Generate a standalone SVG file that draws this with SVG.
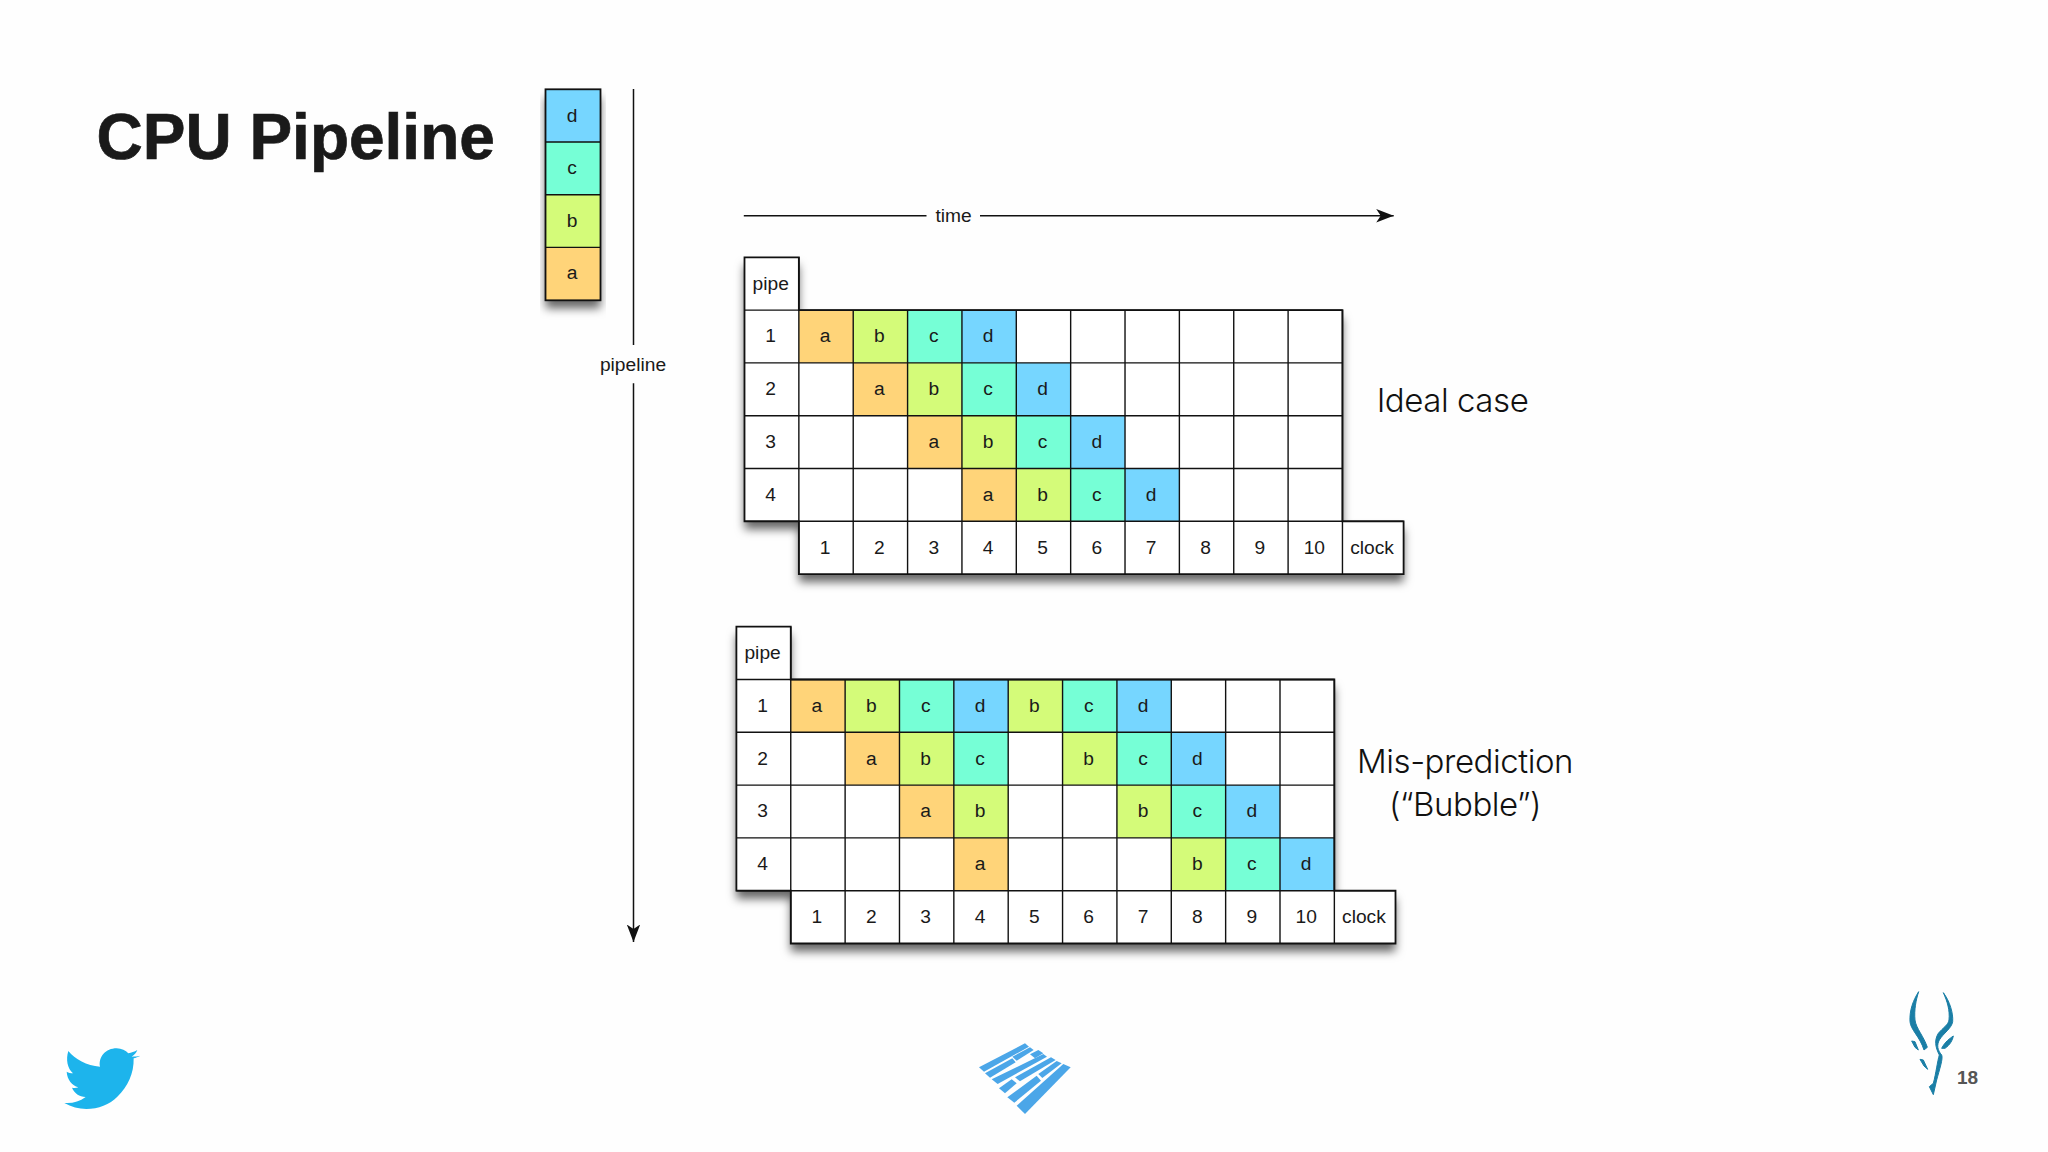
<svg xmlns="http://www.w3.org/2000/svg" width="2048" height="1152" viewBox="0 0 2048 1152">
<style>
text{font-family:"Liberation Sans",Arial,sans-serif;font-size:19.2px;fill:#1a1a1a;text-anchor:middle}
.title{font-size:64px;font-weight:700;fill:#1a1a1a;stroke:#1a1a1a;stroke-width:.7;text-anchor:start}
.big{font-family:Inter,"Liberation Sans",sans-serif;font-weight:300;font-size:33px;letter-spacing:-.45px;fill:#111}
.num{font-size:19px;font-weight:700;fill:#555;text-anchor:start}
.k{width:54.36px;height:52.8px;stroke:none}
.a{fill:#FFD479}.b{fill:#D4FB79}.c{fill:#76FFD6}.d{fill:#76D6FF}
.base{fill:#fff;stroke:none;filter:url(#sh)}
.edge{fill:none;stroke:#111;stroke-width:1.8}
.lines{fill:none;stroke:#111;stroke-width:1.4}
.conn{stroke:#111;stroke-width:1.5;fill:none}
.arrow{marker-end:url(#ah)}
</style>
<defs>
<filter id="sh" x="-10%" y="-10%" width="120%" height="125%"><feDropShadow dx="0" dy="8" stdDeviation="5" flood-color="#000" flood-opacity=".6"/></filter>
<marker id="ah" markerUnits="userSpaceOnUse" markerWidth="20" markerHeight="16" refX="17.5" refY="8" orient="auto"><path d="M0,1.3 L17.5,8 L0,14.7 L4.5,8 Z" fill="#111"/></marker>
</defs>
<rect width="2048" height="1152" fill="#fefefe"/>
<text class="title" x="96.5" y="159">CPU Pipeline</text>

<g id="stack">
<rect class="base" x="545.5" y="89.3" width="55" height="211"/>
<rect class="d" x="545.5" y="89.3" width="55" height="52.8"/>
<rect class="c" x="545.5" y="142" width="55" height="52.8"/>
<rect class="b" x="545.5" y="194.8" width="55" height="52.6"/>
<rect class="a" x="545.5" y="247.4" width="55" height="53"/>
<path class="lines" d="M545.5,142H600.5M545.5,194.8H600.5M545.5,247.4H600.5"/>
<rect class="edge" x="545.5" y="89.3" width="55" height="211"/>
<text x="572" y="121.5">d</text><text x="572" y="174">c</text><text x="572" y="226.5">b</text><text x="572" y="279">a</text>
</g>

<g id="connectors">
<path class="conn" d="M633.5,89V345"/>
<path class="conn arrow" d="M633.5,383.3V942"/>
<path class="conn" d="M743.8,215.7H926.5"/>
<path class="conn arrow" d="M980,215.7H1393.7"/>
</g>
<text id="label-pipeline" x="633" y="370.5">pipeline</text>
<text id="label-time" x="953.5" y="221.5">time</text>

<g id="table-ideal" transform="translate(744.5 257.3)">
<path class="base" d="M0,0H54.36V52.8H597.96V264H659.1V316.8H54.36V264H0Z"/>
<rect class="k a" x="54.36" y="52.8"/><rect class="k b" x="108.72" y="52.8"/><rect class="k c" x="163.08" y="52.8"/><rect class="k d" x="217.44" y="52.8"/>
<rect class="k a" x="108.72" y="105.6"/><rect class="k b" x="163.08" y="105.6"/><rect class="k c" x="217.44" y="105.6"/><rect class="k d" x="271.8" y="105.6"/>
<rect class="k a" x="163.08" y="158.4"/><rect class="k b" x="217.44" y="158.4"/><rect class="k c" x="271.8" y="158.4"/><rect class="k d" x="326.16" y="158.4"/>
<rect class="k a" x="217.44" y="211.2"/><rect class="k b" x="271.8" y="211.2"/><rect class="k c" x="326.16" y="211.2"/><rect class="k d" x="380.52" y="211.2"/>
<path class="lines" d="M54.36,0V316.8M108.72,52.8V316.8M163.08,52.8V316.8M217.44,52.8V316.8M271.8,52.8V316.8M326.16,52.8V316.8M380.52,52.8V316.8M434.88,52.8V316.8M489.24,52.8V316.8M543.6,52.8V316.8M597.96,52.8V316.8M0,52.8H597.96M0,105.6H597.96M0,158.4H597.96M0,211.2H597.96M0,264H659.1"/>
<path class="edge" d="M0,0H54.36V52.8H597.96V264H659.1V316.8H54.36V264H0Z"/>
<text x="26.2" y="32.4">pipe</text>
<text x="26.2" y="85.2">1</text><text x="26.2" y="138">2</text><text x="26.2" y="190.8">3</text><text x="26.2" y="243.6">4</text>
<text x="80.5" y="85.2">a</text><text x="134.9" y="85.2">b</text><text x="189.3" y="85.2">c</text><text x="243.6" y="85.2">d</text>
<text x="134.9" y="138">a</text><text x="189.3" y="138">b</text><text x="243.6" y="138">c</text><text x="298" y="138">d</text>
<text x="189.3" y="190.8">a</text><text x="243.6" y="190.8">b</text><text x="298" y="190.8">c</text><text x="352.3" y="190.8">d</text>
<text x="243.6" y="243.6">a</text><text x="298" y="243.6">b</text><text x="352.3" y="243.6">c</text><text x="406.7" y="243.6">d</text>
<text x="80.5" y="296.4">1</text><text x="134.9" y="296.4">2</text><text x="189.3" y="296.4">3</text><text x="243.6" y="296.4">4</text><text x="298" y="296.4">5</text><text x="352.3" y="296.4">6</text><text x="406.7" y="296.4">7</text><text x="461" y="296.4">8</text><text x="515.4" y="296.4">9</text><text x="569.8" y="296.4">10</text><text x="627.5" y="296.4">clock</text>
</g>
<text id="label-ideal" class="big" x="1452.5" y="411.7">Ideal case</text>

<g id="table-bubble" transform="translate(736.4 626.7)">
<path class="base" d="M0,0H54.36V52.8H597.96V264H659.1V316.8H54.36V264H0Z"/>
<rect class="k a" x="54.36" y="52.8"/><rect class="k b" x="108.72" y="52.8"/><rect class="k c" x="163.08" y="52.8"/><rect class="k d" x="217.44" y="52.8"/><rect class="k b" x="271.8" y="52.8"/><rect class="k c" x="326.16" y="52.8"/><rect class="k d" x="380.52" y="52.8"/>
<rect class="k a" x="108.72" y="105.6"/><rect class="k b" x="163.08" y="105.6"/><rect class="k c" x="217.44" y="105.6"/><rect class="k b" x="326.16" y="105.6"/><rect class="k c" x="380.52" y="105.6"/><rect class="k d" x="434.88" y="105.6"/>
<rect class="k a" x="163.08" y="158.4"/><rect class="k b" x="217.44" y="158.4"/><rect class="k b" x="380.52" y="158.4"/><rect class="k c" x="434.88" y="158.4"/><rect class="k d" x="489.24" y="158.4"/>
<rect class="k a" x="217.44" y="211.2"/><rect class="k b" x="434.88" y="211.2"/><rect class="k c" x="489.24" y="211.2"/><rect class="k d" x="543.6" y="211.2"/>
<path class="lines" d="M54.36,0V316.8M108.72,52.8V316.8M163.08,52.8V316.8M217.44,52.8V316.8M271.8,52.8V316.8M326.16,52.8V316.8M380.52,52.8V316.8M434.88,52.8V316.8M489.24,52.8V316.8M543.6,52.8V316.8M597.96,52.8V316.8M0,52.8H597.96M0,105.6H597.96M0,158.4H597.96M0,211.2H597.96M0,264H659.1"/>
<path class="edge" d="M0,0H54.36V52.8H597.96V264H659.1V316.8H54.36V264H0Z"/>
<text x="26.2" y="32.4">pipe</text>
<text x="26.2" y="85.2">1</text><text x="26.2" y="138">2</text><text x="26.2" y="190.8">3</text><text x="26.2" y="243.6">4</text>
<text x="80.5" y="85.2">a</text><text x="134.9" y="85.2">b</text><text x="189.3" y="85.2">c</text><text x="243.6" y="85.2">d</text><text x="298" y="85.2">b</text><text x="352.3" y="85.2">c</text><text x="406.7" y="85.2">d</text>
<text x="134.9" y="138">a</text><text x="189.3" y="138">b</text><text x="243.6" y="138">c</text><text x="352.3" y="138">b</text><text x="406.7" y="138">c</text><text x="461" y="138">d</text>
<text x="189.3" y="190.8">a</text><text x="243.6" y="190.8">b</text><text x="406.7" y="190.8">b</text><text x="461" y="190.8">c</text><text x="515.4" y="190.8">d</text>
<text x="243.6" y="243.6">a</text><text x="461" y="243.6">b</text><text x="515.4" y="243.6">c</text><text x="569.8" y="243.6">d</text>
<text x="80.5" y="296.4">1</text><text x="134.9" y="296.4">2</text><text x="189.3" y="296.4">3</text><text x="243.6" y="296.4">4</text><text x="298" y="296.4">5</text><text x="352.3" y="296.4">6</text><text x="406.7" y="296.4">7</text><text x="461" y="296.4">8</text><text x="515.4" y="296.4">9</text><text x="569.8" y="296.4">10</text><text x="627.5" y="296.4">clock</text>
</g>
<text id="label-bubble-1" class="big" x="1465" y="773.3">Mis-prediction</text>
<text id="label-bubble-2" class="big" x="1465" y="816">(“Bubble”)</text>

<g id="logo-twitter" transform="translate(40 1030) scale(.3333)">
<path fill="#1DB4EC" d="M301 77C294 81 287 83 281 85C282 130 264 170 232 200C195 238 125 250 73 219C97 221 118 215 137 201C118 200 103 190 96 173C103 174 109 174 115 172C96 166 82 150 80 125C86 128 92 130 99 130C82 115 77 88 85 63C105 88 140 107 180 110C175 80 197 55 230 55C245 55 257 62 265 70C274 68 283 65 292 60C289 68 283 75 275 80C284 79 293 80 301 77Z"/>
</g>
<g id="logo-bricks" transform="translate(975 1040) scale(.3333)" fill="#4BA6E8">
<path d="M12,82L150,10L162,20L27,95Z"/>
<path d="M30,100L112,55L122,67L45,113Z"/>
<path d="M112,50L165,22L176,30L125,62Z"/>
<path d="M165,43L190,30L205,40L180,55Z"/>
<path d="M50,118L205,42L216,50L68,132Z"/>
<path d="M72,145L110,118L125,130L90,160Z"/>
<path d="M120,112L228,52L242,60L135,124Z"/>
<path d="M97,172L185,107L198,122L118,188Z"/>
<path d="M190,102L245,63L260,70L202,114Z"/>
<path d="M125,197L265,72L287,82L150,222Z"/>
</g>
<g id="logo-antelope" transform="translate(1900 990) scale(.3333)" fill="#1A7EA6" stroke="#1A7EA6" stroke-width="3" stroke-linejoin="round">
<path d="M56,5C40,30 28,60 30,95C32,120 60,140 72,180L82,172C72,140 48,115 45,90C42,60 48,30 56,5Z"/>
<path d="M130,8C150,35 160,70 158,95C155,115 130,130 118,150C110,165 112,180 125,195C130,205 118,240 110,270L100,314L88,290L100,280C108,250 112,215 118,195C105,170 103,150 115,130C130,112 145,105 147,90C150,60 142,35 130,8Z"/>
<path d="M160,138C150,145 135,155 125,175L135,175C150,165 158,150 160,138Z"/>
<path d="M35,153L45,155L55,180L45,172Z"/>
<path d="M60,208L70,210L83,238L72,228Z"/>
</g>
<text id="page-number" class="num" x="1957" y="1084">18</text>
</svg>
